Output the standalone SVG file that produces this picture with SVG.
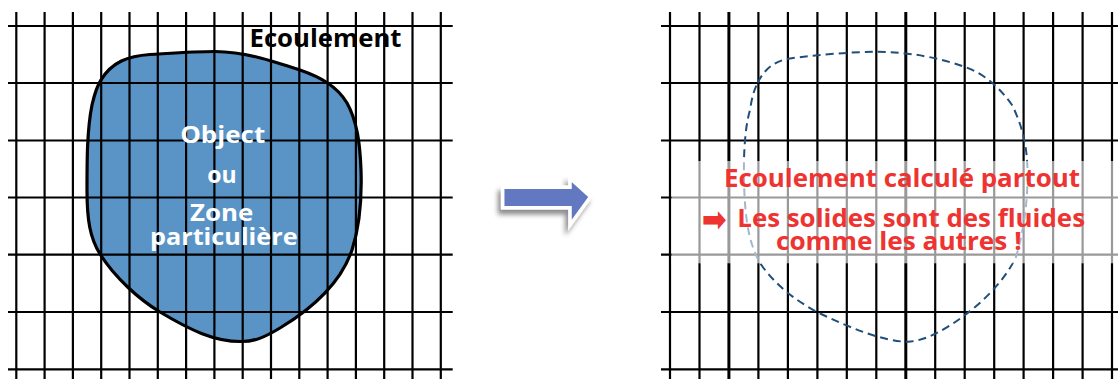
<svg xmlns="http://www.w3.org/2000/svg" width="1118" height="379" viewBox="0 0 1118 379">
<defs>
<style>
.grid line{stroke:#000;stroke-width:2.2}
.blob{fill:#5a94c7;stroke:#000;stroke-width:3.2;stroke-linejoin:round}
.dash{fill:none;stroke:#1f4e79;stroke-width:2;stroke-dasharray:8 5}
.lbl{font-family:"Open Sans","Liberation Sans",sans-serif;font-weight:700}
.blk{fill:#000;font-size:25px}
.wht{fill:#fff;font-size:23px}
.red{fill:#ee3330;font-size:25px}
</style>
<filter id="shadow" x="-20%" y="-30%" width="150%" height="180%">
<feDropShadow dx="-3" dy="5" stdDeviation="2.5" flood-color="#000" flood-opacity="0.45"/>
</filter>
</defs>
<rect width="1118" height="379" fill="#fff"/>

<g id="object-zone">
<path class="blob" d="M 101 80 C 112 62, 128 56, 150 54.5 C 175 53, 195 51.5, 215 51.5 C 245 52, 270 60, 300 70 C 320 77, 337 86, 347 103 C 357 121, 360 143, 361 170 C 362 200, 360 225, 352 250 C 340 285, 310 310, 280 328 C 265 337, 255 341.5, 242 341.5 C 215 342, 190 330, 160 312 C 140 300, 115 278, 100 254 C 90 238, 87 220, 87 190 C 87 160, 87 130, 92 105 C 95 92, 97 86, 101 80 Z"/>
</g>

<g id="grid-left" class="grid">
<line x1="16.3" y1="12" x2="16.3" y2="379"/>
<line x1="44.6" y1="12" x2="44.6" y2="379"/>
<line x1="72.9" y1="12" x2="72.9" y2="379"/>
<line x1="101.2" y1="12" x2="101.2" y2="379"/>
<line x1="129.5" y1="12" x2="129.5" y2="379"/>
<line x1="157.8" y1="12" x2="157.8" y2="379"/>
<line x1="186.1" y1="12" x2="186.1" y2="379"/>
<line x1="214.4" y1="12" x2="214.4" y2="379"/>
<line x1="242.7" y1="12" x2="242.7" y2="379"/>
<line x1="271" y1="12" x2="271" y2="379"/>
<line x1="299.3" y1="12" x2="299.3" y2="379"/>
<line x1="327.6" y1="12" x2="327.6" y2="379"/>
<line x1="355.9" y1="12" x2="355.9" y2="379"/>
<line x1="384.2" y1="12" x2="384.2" y2="379"/>
<line x1="412.5" y1="12" x2="412.5" y2="379"/>
<line x1="440.8" y1="12" x2="440.8" y2="379"/>
<line x1="8" y1="26" x2="452.7" y2="26"/>
<line x1="8" y1="83" x2="452.7" y2="83"/>
<line x1="8" y1="140.5" x2="452.7" y2="140.5"/>
<line x1="8" y1="197.5" x2="452.7" y2="197.5"/>
<line x1="8" y1="254.7" x2="452.7" y2="254.7"/>
<line x1="8" y1="312" x2="452.7" y2="312"/>
<line x1="8" y1="369.3" x2="452.7" y2="369.3"/>
</g>

<g id="label-ecoulement">
<text class="lbl blk" x="325.5" y="46.7" text-anchor="middle" textLength="152" lengthAdjust="spacingAndGlyphs">Ecoulement</text>
</g>

<g id="label-object">
<text class="lbl wht" x="222.7" y="143.3" text-anchor="middle" textLength="85" lengthAdjust="spacingAndGlyphs">Object</text>
<text class="lbl wht" x="222" y="183" text-anchor="middle">ou</text>
<text class="lbl wht" x="221.7" y="221" text-anchor="middle" textLength="63.3" lengthAdjust="spacingAndGlyphs">Zone</text>
<text class="lbl wht" x="223.8" y="245" text-anchor="middle" textLength="147.7" lengthAdjust="spacingAndGlyphs">particulière</text>
</g>

<g id="connectors">
<path d="M 502.7 187.3 L 570 187.3 L 570 178.3 L 590.5 196.7 L 570 225 L 570 207.7 L 502.7 207.7 Z" fill="#6278c0" stroke="#fff" stroke-width="3.5" stroke-linejoin="miter" filter="url(#shadow)"/>
</g>

<g id="grid-right" class="grid">
<line x1="670" y1="12" x2="670" y2="379"/>
<line x1="699.5" y1="12" x2="699.5" y2="379"/>
<line x1="728.9" y1="12" x2="728.9" y2="379" style="stroke-width:3"/>
<line x1="758.4" y1="12" x2="758.4" y2="379"/>
<line x1="787.9" y1="12" x2="787.9" y2="379"/>
<line x1="817.4" y1="12" x2="817.4" y2="379"/>
<line x1="846.8" y1="12" x2="846.8" y2="379"/>
<line x1="876.3" y1="12" x2="876.3" y2="379"/>
<line x1="905.8" y1="12" x2="905.8" y2="379" style="stroke-width:3"/>
<line x1="935.2" y1="12" x2="935.2" y2="379"/>
<line x1="964.7" y1="12" x2="964.7" y2="379"/>
<line x1="994.2" y1="12" x2="994.2" y2="379"/>
<line x1="1023.6" y1="12" x2="1023.6" y2="379"/>
<line x1="1053.1" y1="12" x2="1053.1" y2="379"/>
<line x1="1082.6" y1="12" x2="1082.6" y2="379"/>
<line x1="1112" y1="12" x2="1112" y2="379"/>
<line x1="661" y1="26" x2="1118" y2="26"/>
<line x1="661" y1="83" x2="1118" y2="83"/>
<line x1="661" y1="140.5" x2="1118" y2="140.5"/>
<line x1="661" y1="197.5" x2="1118" y2="197.5"/>
<line x1="661" y1="254.7" x2="1118" y2="254.7"/>
<line x1="661" y1="312" x2="1118" y2="312"/>
<line x1="661" y1="369.3" x2="1118" y2="369.3"/>
</g>

<g id="fluid-outline">
<path class="dash" d="M 757.7 82.7 C 765 68, 775 61, 790 58.5 C 815 55, 850 52, 877 51.7 C 910 52, 940 58, 965 67 C 985 74, 1000 88, 1012 105 C 1022 125, 1027 145, 1027.5 170 C 1028 200, 1024 230, 1016 257 C 1005 280, 985 300, 965 315 C 945 330, 925 341, 908 341.7 C 885 342, 850 328, 817 312 C 795 300, 775 285, 760 263 C 750 245, 746 225, 744.5 195 C 743 165, 744 130, 750 110 C 752 97, 754 90, 757.7 82.7 Z"/>
</g>

<g id="note">
<rect x="671.5" y="161" width="446.5" height="102.3" fill="#fff" fill-opacity="0.6"/>
<text class="lbl red" x="902" y="186.7" text-anchor="middle" textLength="356" lengthAdjust="spacingAndGlyphs">Ecoulement calculé partout</text>
<text x="701.7" y="231" fill="#ee3330" font-family="'DejaVu Sans',sans-serif" font-weight="700" font-size="34" textLength="25" lengthAdjust="spacingAndGlyphs">➡</text>
<text class="lbl red" x="737.3" y="226.5" textLength="347.7" lengthAdjust="spacingAndGlyphs">Les solides sont des fluides</text>
<text class="lbl red" x="898.8" y="250" text-anchor="middle" textLength="245.7" lengthAdjust="spacingAndGlyphs">comme les autres !</text>
</g>
</svg>
